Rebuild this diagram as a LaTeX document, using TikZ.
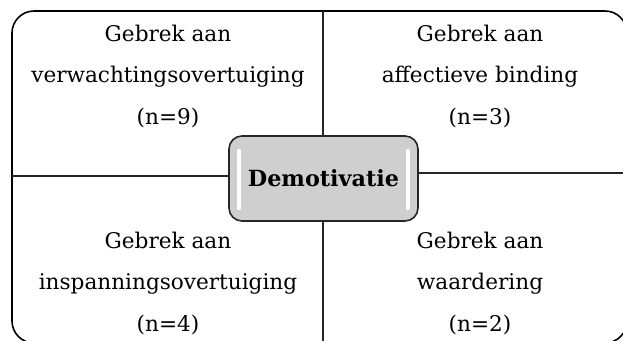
\documentclass[tikz,border=0pt]{standalone}
\usepackage{fontspec}
\setmainfont{DejaVu Serif}
\usetikzlibrary{calc}

\tikzset{
  quad/.style={align=center, inner sep=0pt, font=\fontsize{21.6}{41.5}\selectfont},
  centerbox/.style={draw=black!85, line width=1.6pt, rounded corners=13pt, fill=black!19,
    minimum width=189pt, minimum height=85pt, inner sep=0pt,
    font=\fontsize{22.3}{24}\selectfont\bfseries},
  divider/.style={line width=1.3pt, black!85},
}

\begin{document}
\begin{tikzpicture}[x=1pt,y=-1pt]
			%%%%% START %%%%%
			\useasboundingbox (0,0) rectangle (623,340);
			\clip (0,0) rectangle (623,340);
			
			% outer frame
			\draw[line width=1.6pt, rounded corners=22pt] (12,11) rectangle (627,343);
			
			% points on the frame
			\coordinate (ftop) at (323,11);
			\coordinate (fbot) at (323,343);
			\coordinate (fleft) at (12,176);
			\coordinate (fright) at (627,173);
			
			% the four quadrants
			\node[quad] (tl) at (168,76) {Gebrek aan\\verwachtingsovertuiging\\(n=9)};
			\node[quad] (tr) at (480,76) {Gebrek aan\\affectieve binding\\(n=3)};
			\node[quad] (bl) at (168,283) {Gebrek aan\\inspanningsovertuiging\\(n=4)};
			\node[quad] (br) at (480,283) {Gebrek aan\\waardering\\(n=2)};
			
			% centre box
			\node[centerbox] (demo) at (323.5,178.5) {Demotivatie};
			\draw[white, line width=3.5pt, line cap=round] ($(demo.west)+(11,-28)$) -- ($(demo.west)+(11,30)$);
			\draw[white, line width=3.5pt, line cap=round] ($(demo.east)+(-11,-28)$) -- ($(demo.east)+(-11,30)$);
			
			% dividers
			\draw[divider] (ftop) -- (demo.north -| ftop);
			\draw[divider] (demo.south -| fbot) -- (fbot);
			\draw[divider] (fleft) -- (fleft -| demo.west);
			\draw[divider] (fright -| demo.east) -- (fright);
			%%%%% END %%%%%
\end{tikzpicture}
\end{document}
